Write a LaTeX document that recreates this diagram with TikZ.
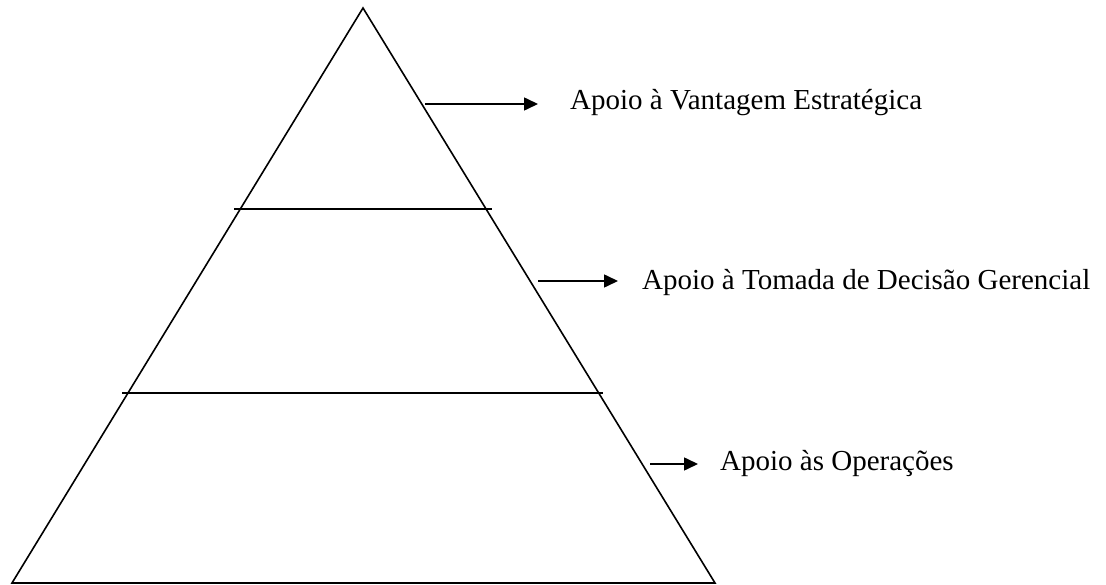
\documentclass[tikz,border=0pt]{standalone}
\usepackage{fontspec}
\setmainfont{Liberation Serif}
\usetikzlibrary{arrows.meta}
\begin{document}
\begin{tikzpicture}[x=1pt,y=-1pt,
  edge/.style={line width=1.6pt, line join=miter},
  arr/.style={line width=1.6pt, -{Triangle[length=14pt,width=13pt]}},
  lbl/.style={anchor=base west, inner sep=0pt, font=\fontsize{29}{33}\selectfont}]
\useasboundingbox (0,0) rectangle (1106,585);
\coordinate (apex) at (363,8);
\coordinate (bl) at (12,583);
\coordinate (br) at (715,583);
\draw[edge] (apex) -- (br) -- (bl) -- cycle;
\coordinate (l1a) at (234,209);
\coordinate (l1b) at (492,209);
\coordinate (l2a) at (122,393);
\coordinate (l2b) at (603,393);
\draw[edge] (l1a) -- (l1b);
\draw[edge] (l2a) -- (l2b);
\node[lbl] (t1) at (570,110) {Apoio à Vantagem Estratégica};
\node[lbl] (t2) at (642,289.5) {Apoio à Tomada de Decisão Gerencial};
\node[lbl] (t3) at (720,470) {Apoio às Operações};
\coordinate (s1) at (425,104);
\coordinate (s2) at (538,281);
\coordinate (s3) at (650,464);
\draw[arr, shorten >=32pt] (s1) -- (s1 -| t1.west);
\draw[arr, shorten >=24pt] (s2) -- (s2 -| t2.west);
\draw[arr, shorten >=22pt] (s3) -- (s3 -| t3.west);
\end{tikzpicture}
\end{document}
